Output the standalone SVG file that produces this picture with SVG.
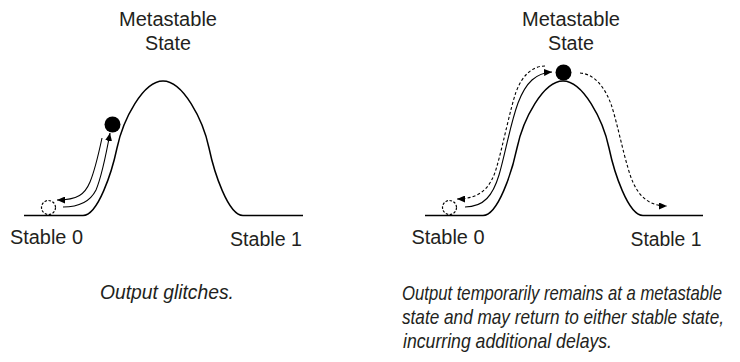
<svg xmlns="http://www.w3.org/2000/svg" width="740" height="362" viewBox="0 0 740 362">
<style>
  .bg{fill:#ffffff}
  .hill{fill:none;stroke:#000;stroke-width:1.5}
  .ball{fill:#000}
  .ghost{fill:none;stroke:#000;stroke-width:1.2;stroke-dasharray:2.5 1.6}
  .arr{fill:none;stroke:#000;stroke-width:1.1}
  .dash{stroke-dasharray:3 2.2}
  .lbl{font-family:"Liberation Sans",Arial,sans-serif;font-size:20px;fill:#231f20}
  .cap{font-family:"Liberation Sans",Arial,sans-serif;font-size:20px;font-style:italic;fill:#231f20}
</style>
<defs>
  <marker id="ah" markerUnits="userSpaceOnUse" markerWidth="9" markerHeight="7" refX="8" refY="3.5" orient="auto">
    <path d="M0,0 L8,3.5 L0,7 z" fill="#000"/>
  </marker>
</defs>
<rect class="bg" x="0" y="0" width="740" height="362"/>

<g id="left-hill">
  <path class="hill" d="M24,215.5 H83 C98,215.5 112,171.7 117,148 C123,119.6 143,81 163,81 C183,81 203,119.6 209,148 C214,171.7 228,215.5 243,215.5 H303"/>
</g>
<g id="left-ball"><circle class="ball" cx="112.5" cy="124.5" r="8"/></g>
<g id="left-ghost"><circle class="ghost" cx="48.5" cy="207.5" r="7"/></g>
<g id="left-title"><text class="lbl" x="168" y="26" text-anchor="middle" textLength="98" lengthAdjust="spacingAndGlyphs">Metastable</text><text class="lbl" x="168" y="50" text-anchor="middle" textLength="46" lengthAdjust="spacingAndGlyphs">State</text></g>
<g id="left-stable0"><text class="lbl" x="10" y="244" textLength="73" lengthAdjust="spacingAndGlyphs">Stable 0</text></g>
<g id="left-stable1"><text class="lbl" x="230" y="246" textLength="72" lengthAdjust="spacingAndGlyphs">Stable 1</text></g>
<g id="left-caption" transform="translate(100,0) scale(0.85,1)"><text class="cap" x="0" y="299" textLength="157.6" lengthAdjust="spacingAndGlyphs">Output glitches.</text></g>

<g id="right-hill">
  <path class="hill" d="M425,215.5 H483 C498,215.5 512,171.7 517,148 C523,119.6 543,81 563,81 C583,81 603,119.6 609,148 C614,171.7 628,215.5 643,215.5 H703"/>
</g>
<g id="right-ball"><circle class="ball" cx="563.5" cy="72.5" r="8"/></g>
<g id="right-ghost"><circle class="ghost" cx="449.5" cy="207.5" r="7"/></g>
<g id="right-title"><text class="lbl" x="571" y="26" text-anchor="middle" textLength="98" lengthAdjust="spacingAndGlyphs">Metastable</text><text class="lbl" x="571" y="50" text-anchor="middle" textLength="46" lengthAdjust="spacingAndGlyphs">State</text></g>
<g id="right-stable0"><text class="lbl" x="411.5" y="244" textLength="73" lengthAdjust="spacingAndGlyphs">Stable 0</text></g>
<g id="right-stable1"><text class="lbl" x="630.5" y="246" textLength="71" lengthAdjust="spacingAndGlyphs">Stable 1</text></g>
<g id="right-caption" transform="translate(402,0) scale(0.85,1)">
  <text class="cap" x="0" y="300" textLength="376.5" lengthAdjust="spacingAndGlyphs">Output temporarily remains at a metastable</text>
  <text class="cap" x="0" y="324" textLength="378.8" lengthAdjust="spacingAndGlyphs">state and may return to either stable state,</text>
  <text class="cap" x="1.2" y="348" textLength="245.9" lengthAdjust="spacingAndGlyphs">incurring additional delays.</text>
</g>

<g id="connectors">
  <path class="arr" marker-end="url(#ah)" d="M102,138 C99,152 95,170 90,182 C85,194 78,200 57,200"/>
  <path class="arr" marker-end="url(#ah)" d="M63,207 C82,207 91,200 96,190 C101,178 106,155 110,133"/>
  <path class="arr" marker-end="url(#ah)" d="M465,207 C484,207 493,195 499,175 C505,155 510,125 518,103 C526,82 536,73 552,72"/>
  <path class="arr dash" marker-end="url(#ah)" d="M545,66 C532,66 522,76 516,92 C510,110 503,145 497,166 C491,188 480,199 457,199"/>
  <path class="arr dash" marker-end="url(#ah)" d="M580,73 C595,74 605,88 611,104 C617,122 622,148 628,168 C634,190 644,206 667,206"/>
</g>
</svg>
